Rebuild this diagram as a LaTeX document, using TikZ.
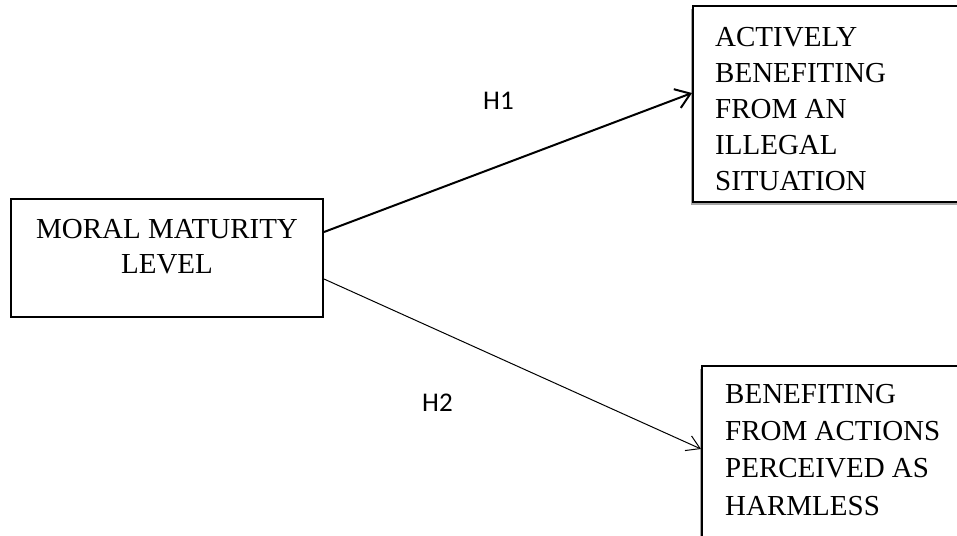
\documentclass[tikz,border=0pt]{standalone}
\usepackage{fontspec}
\setmainfont{Liberation Serif}
\newfontfamily\hfont{Carlito}
\usetikzlibrary{arrows.meta,shadows}
\begin{document}
\begin{tikzpicture}[x=1pt,y=-1pt,
  box/.style={draw, line width=2pt, inner sep=0pt, fill=white},
  shad/.style={drop shadow={shadow xshift=-2pt,shadow yshift=-3pt,opacity=0.35,fill=black}},
  txt/.style={font=\fontsize{29}{35.8}\selectfont, anchor=base west, align=left, inner sep=0pt},
  txtc/.style={font=\fontsize{29}{35}\selectfont, anchor=base, align=center, inner sep=0pt},
  hyp/.style={font=\hfont\fontsize{27}{32}\selectfont, anchor=base west, inner sep=0pt},
  thick arrow/.style={line width=2pt, -{Straight Barb[length=14pt,width=20pt,line width=2pt]}},
  thin arrow/.style={line width=1pt, -{Straight Barb[length=13pt,width=16pt,line width=1pt]}}
]
\useasboundingbox (0,0) rectangle (957,535);
\clip (0,0) rectangle (957,535);
\fill[white] (0,0) rectangle (957,535);

\node[box, minimum width=312pt, minimum height=118pt] (moral) at (167,258) {};
\node[box, shad, minimum width=307pt, minimum height=196pt] (act) at (846.5,104) {};
\node[box, shad, minimum width=298pt, minimum height=254pt] (harm) at (851,493) {};

\node[txtc] (moraltxt) at (167,273) {MORAL MATURITY\\LEVEL};
\node[txt] (acttxt) at (715,190) {ACTIVELY\\BENEFITING\\FROM AN\\ILLEGAL\\SITUATION};
\node[txt, font=\fontsize{29}{37.3}\selectfont] (harmtxt) at (725,515) {BENEFITING\\FROM ACTIONS\\PERCEIVED AS\\HARMLESS};

\draw[thick arrow] ([yshift=26pt]moral.east) -- ([yshift=11pt]act.west);
\draw[thin arrow] ([yshift=-21pt]moral.east) -- ([yshift=44pt]harm.west);

\node[hyp] (h1) at (483,109) {H1};
\node[hyp] (h2) at (422,411) {H2};
\end{tikzpicture}
\end{document}
